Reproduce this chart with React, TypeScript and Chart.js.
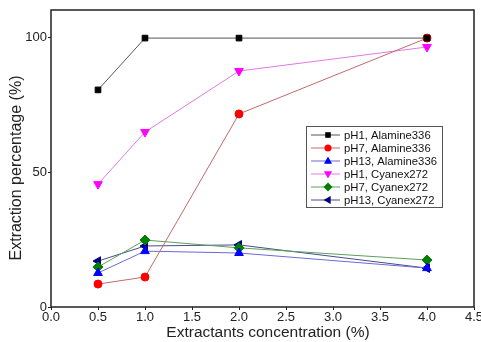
import React, { useEffect, useRef } from "react";
import { Chart, registerables } from "chart.js";

Chart.register(...registerables);

const concentrations = [0.5, 1.0, 2.0, 4.0];
const seriesNames = [
  "pH1, Alamine336",
  "pH7, Alamine336",
  "pH13, Alamine336",
  "pH1, Cyanex272",
  "pH7, Cyanex272",
  "pH13, Cyanex272",
];
const pH1Alamine = [80.4, 99.6, 99.6, 99.6];
const pH7Alamine = [8.5, 11.1, 71.5, 99.6];
const pH13Alamine = [12.6, 20.7, 20.0, 14.4];
const pH1Cyanex = [45.5, 64.8, 87.4, 96.3];
const pH7Cyanex = [14.8, 24.8, 21.9, 17.4];
const pH13Cyanex = [17.0, 22.6, 23.0, 14.4];
const yTicks = [0, 50, 100];
const xTicks = [0, 0.5, 1, 1.5, 2, 2.5, 3, 3.5, 4, 4.5];
const xTitle = "Extractants concentration (%)";
const yTitle = "Extraction percentage (%)";

const FONT = "'Liberation Sans', Arial, sans-serif";

const styles = [
  { line: "#555555", fill: "#000000", shape: "rect", rot: 0, r: 4 },
  { line: "#c06a6a", fill: "#ff0000", shape: "circle", rot: 0, r: 4 },
  { line: "#6a6ad8", fill: "#0000ff", shape: "triangle", rot: 0, r: 5 },
  { line: "#e07ae0", fill: "#ff00ff", shape: "triangle", rot: 180, r: 5 },
  { line: "#5aa05a", fill: "#008000", shape: "rectRot", rot: 0, r: 5 },
  { line: "#4a4a90", fill: "#000080", shape: "triangle", rot: -90, r: 5 },
];

const allValues = [pH1Alamine, pH7Alamine, pH13Alamine, pH1Cyanex, pH7Cyanex, pH13Cyanex];

const framePlugin = {
  id: "frame",
  afterDraw(chart: any) {
    const { ctx, chartArea } = chart;
    ctx.save();
    ctx.strokeStyle = "#222222";
    ctx.lineWidth = 1.5;
    ctx.strokeRect(chartArea.left, chartArea.top, chartArea.right - chartArea.left, chartArea.bottom - chartArea.top);
    ctx.fillStyle = "#222222";
    ctx.textAlign = "center";
    ctx.textBaseline = "middle";
    ctx.font = `15.5px ${FONT}`;
    ctx.fillText(xTitle, 268, 333);
    ctx.translate(16.5, 168);
    ctx.rotate(-Math.PI / 2);
    ctx.font = `16px ${FONT}`;
    ctx.fillText(yTitle, 0, 0);
    ctx.restore();
  },
};

function drawMarker(ctx: any, shape: string, rot: number, x: number, y: number, r: number, color: string) {
  ctx.save();
  ctx.fillStyle = color;
  ctx.translate(x, y);
  ctx.rotate((rot * Math.PI) / 180);
  ctx.beginPath();
  if (shape === "rect") {
    ctx.rect(-r * 0.8, -r * 0.8, r * 1.6, r * 1.6);
  } else if (shape === "circle") {
    ctx.arc(0, 0, r, 0, Math.PI * 2);
  } else if (shape === "triangle") {
    ctx.moveTo(0, -r);
    ctx.lineTo(r * 0.9, r * 0.6);
    ctx.lineTo(-r * 0.9, r * 0.6);
    ctx.closePath();
  } else if (shape === "rectRot") {
    ctx.moveTo(0, -r);
    ctx.lineTo(r, 0);
    ctx.lineTo(0, r);
    ctx.lineTo(-r, 0);
    ctx.closePath();
  }
  ctx.fill();
  ctx.restore();
}

const legendPlugin = {
  id: "customLegend",
  afterDraw(chart: any) {
    const { ctx } = chart;
    const bx = 306, by = 126, bw = 136, bh = 81;
    ctx.save();
    ctx.fillStyle = "#ffffff";
    ctx.fillRect(bx, by, bw, bh);
    ctx.strokeStyle = "#555555";
    ctx.lineWidth = 1;
    ctx.strokeRect(bx + 0.5, by + 0.5, bw, bh);
    ctx.font = `11.3px ${FONT}`;
    ctx.textBaseline = "middle";
    seriesNames.forEach((name, i) => {
      const y = by + 9 + i * 13;
      const s = styles[i];
      ctx.strokeStyle = s.line;
      ctx.lineWidth = 1;
      ctx.beginPath();
      ctx.moveTo(bx + 5, y);
      ctx.lineTo(bx + 34, y);
      ctx.stroke();
      drawMarker(ctx, s.shape, s.rot, bx + 22, y, s.r - 0.5, s.fill);
      ctx.fillStyle = "#111111";
      ctx.fillText(name, bx + 38, y + 0.5);
    });
    ctx.restore();
  },
};

export default function App() {
  const ref = useRef<HTMLCanvasElement>(null);
  useEffect(() => {
    document.body.style.margin = "0";
    const datasets = seriesNames.map((name, i) => ({
      label: name,
      data: concentrations.map((c, j) => ({ x: c, y: allValues[i][j] })),
      borderColor: styles[i].line,
      backgroundColor: styles[i].fill,
      pointBackgroundColor: styles[i].fill,
      pointBorderColor: styles[i].fill,
      pointStyle: styles[i].shape,
      pointRotation: styles[i].rot,
      pointRadius: styles[i].r,
      borderWidth: 1,
      showLine: true,
      tension: 0,
    }));
    const chart = new Chart(ref.current!, {
      type: "scatter",
      data: { datasets },
      plugins: [framePlugin, legendPlugin],
      options: {
        animation: false,
        responsive: false,
        maintainAspectRatio: false,
        layout: { padding: { left: 0, right: 7, top: 10, bottom: 0 } },
        plugins: { legend: { display: false }, tooltip: { enabled: false } },
        scales: {
          x: {
            type: "linear",
            min: 0,
            max: 4.5,
            afterBuildTicks: (axis: any) => {
              axis.ticks = xTicks.map((v) => ({ value: v }));
            },
            afterFit: (axis: any) => {
              axis.height = 35;
              axis.paddingRight = 0;
              axis.paddingLeft = 0;
            },
            grid: { display: true, drawOnChartArea: false, tickLength: 3, color: "#222222" },
            border: { display: false },
            ticks: {
              color: "#222222",
              font: { family: FONT, size: 13 },
              padding: 0,
              maxRotation: 0,
              callback: (v: any) => Number(v).toFixed(1),
            },
            title: { display: false },
          },
          y: {
            type: "linear",
            min: 0,
            max: 110,
            afterBuildTicks: (axis: any) => {
              axis.ticks = yTicks.map((v) => ({ value: v }));
            },
            afterFit: (axis: any) => {
              axis.width = 51;
              axis.paddingTop = 0;
              axis.paddingBottom = 0;
            },
            grid: { display: true, drawOnChartArea: false, tickLength: 3, color: "#222222" },
            border: { display: false },
            ticks: {
              color: "#222222",
              font: { family: FONT, size: 13 },
              padding: 1,
            },
            title: { display: false },
          },
        },
      },
    } as any);
    return () => chart.destroy();
  }, []);
  return (
    <div style={{ width: 481, height: 342, background: "#ffffff" }}>
      <canvas ref={ref} width={481} height={342} style={{ width: 481, height: 342, display: "block" }} />
    </div>
  );
}
